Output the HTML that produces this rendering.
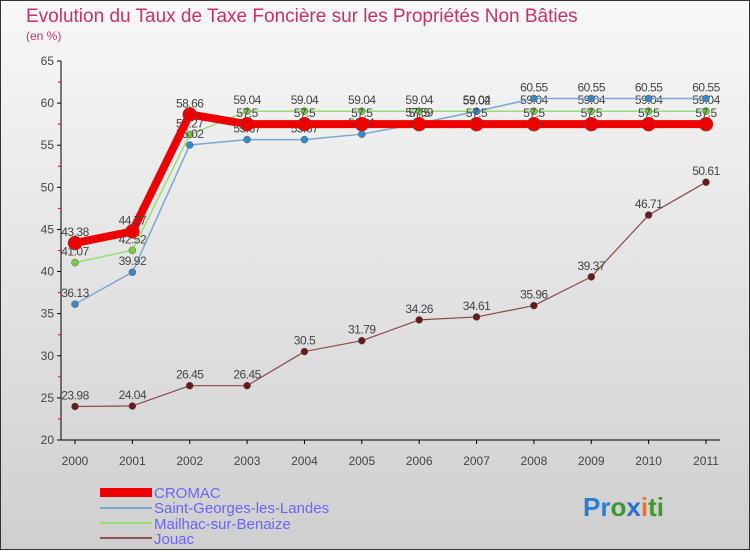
<!DOCTYPE html>
<html><head><meta charset="utf-8"><style>
body{margin:0;width:750px;height:550px;overflow:hidden;font-family:"Liberation Sans",sans-serif}
</style></head><body>
<svg id="chart" width="750" height="550" xmlns="http://www.w3.org/2000/svg">
<defs><linearGradient id="bg" x1="0" y1="0" x2="0" y2="1"><stop offset="0" stop-color="#f8f8f8"/><stop offset="1" stop-color="#cfcfcf"/></linearGradient></defs>
<rect x="0.5" y="0.5" width="749" height="549" fill="url(#bg)" stroke="#333"/>
<text x="26" y="22" font-size="19" fill="#c8306a">Evolution du Taux de Taxe Foncière sur les Propriétés Non Bâties</text>
<text x="26" y="40" font-size="12" fill="#c8306a">(en %)</text>
<g id="axes"></g><g id="series"></g>
<g>
<rect x="100" y="488" width="52" height="9" fill="#e00"/>
<line x1="100" y1="508" x2="152" y2="508" stroke="#7aa8d0" stroke-width="2"/>
<line x1="100" y1="523" x2="152" y2="523" stroke="#99dd77" stroke-width="2"/>
<line x1="100" y1="538" x2="152" y2="538" stroke="#8a5555" stroke-width="2"/>
<g font-size="15" fill="#6666ff">
<text x="154" y="498">CROMAC</text>
<text x="154" y="513">Saint-Georges-les-Landes</text>
<text x="154" y="529">Mailhac-sur-Benaize</text>
<text x="154" y="544">Jouac</text>
</g></g>
<text x="583" y="516" font-size="26" font-weight="bold"><tspan fill="#2a7fd0">Pr</tspan><tspan fill="#3a9a30">o</tspan><tspan fill="#2a6fd0">x</tspan><tspan fill="#f07020">i</tspan><tspan fill="#3a9a30">ti</tspan></text>
</svg>
<script>
const years=["2000","2001","2002","2003","2004","2005","2006","2007","2008","2009","2010","2011"];
const yTicks=[20,25,30,35,40,45,50,55,60,65];
const cromac=[43.38,44.77,58.66,57.5,57.5,57.5,57.5,57.5,57.5,57.5,57.5,57.5];
const saintGeorges=[36.13,39.92,55.02,55.67,55.67,56.31,57.59,59.02,60.55,60.55,60.55,60.55];
const mailhac=[41.07,42.52,56.27,59.04,59.04,59.04,59.04,59.04,59.04,59.04,59.04,59.04];
const jouac=[23.98,24.04,26.45,26.45,30.5,31.79,34.26,34.61,35.96,39.37,46.71,50.61];
const NS="http://www.w3.org/2000/svg";
const X=i=>75+i*(706-75)/(years.length-1);
const Y=v=>440-(v-20)*(440-61)/45;
function mk(t,a,p){const e=document.createElementNS(NS,t);for(const k in a)e.setAttribute(k,a[k]);p.appendChild(e);return e;}
const ax=document.getElementById('axes');
const yl=mk('line',{x1:61,y1:61,x2:61,y2:440,stroke:'#000'},ax);


const xl=mk('line',{x1:61,y1:440,x2:720,y2:440,stroke:'#000'},ax);


yTicks.forEach(v=>{
 mk('line',{x1:57,y1:Y(v),x2:61,y2:Y(v),stroke:'#000'},ax);
 if(v<65) mk('line',{x1:58,y1:Y(v+2.5),x2:61,y2:Y(v+2.5),stroke:'#e00'},ax);
 const t=mk('text',{x:54,y:Y(v)+4,'font-size':12,fill:'#444','text-anchor':'end'},ax);t.textContent=v;
 
 
});
years.forEach((y,i)=>{
 mk('line',{x1:X(i),y1:440,x2:X(i),y2:444,stroke:'#000'},ax);
 const t=mk('text',{x:X(i),y:465,'font-size':12,fill:'#444','text-anchor':'middle'},ax);t.textContent=y;
 
 
});
const sg=document.getElementById('series');
function series(name,vals,color,w,r,dot){
 const g=mk('g',{},sg);
 
 
 mk('polyline',{points:vals.map((v,i)=>X(i)+','+Y(v)).join(' '),fill:'none',stroke:color,'stroke-width':w,'stroke-linejoin':'round'},g);
 vals.forEach((v,i)=>{
  const c=mk('circle',{cx:X(i),cy:Y(v),r:r,fill:dot,stroke:'#555','stroke-width':0.5},g);
  
  
  const t=mk('text',{x:X(i),y:Y(v)-7,'font-size':12,fill:'#444','text-anchor':'middle','letter-spacing':'-0.5'},g);t.textContent=v;
  
  
 });
}
series('series-jouac',jouac,'#8a4a4a',1.2,3.5,'#6a1a1a');
series('series-mailhac',mailhac,'#99dd77',1.5,3.5,'#77cc44');
series('series-saint-georges',saintGeorges,'#7aa8d0',1.5,3.5,'#3a88c8');
series('series-cromac',cromac,'#e00',8,7,'#e00');
</script>
</body></html>
